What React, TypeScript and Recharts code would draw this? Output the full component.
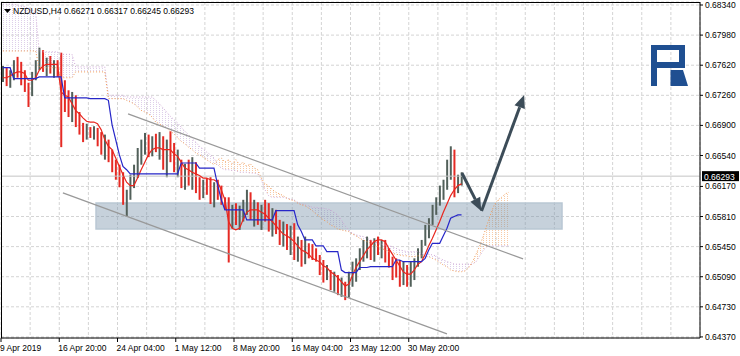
import React from 'react';
import {
  ComposedChart, Bar, Line, Area, XAxis, YAxis, CartesianGrid,
  ReferenceLine, ReferenceArea, Cell,
} from 'recharts';

const W = 740;
const H = 356;
const FONT = "'Liberation Sans', Arial, sans-serif";

// axis labels
const xLabels = ['9 Apr 2019', '16 Apr 20:00', '24 Apr 04:00', '1 May 12:00', '8 May 20:00', '16 May 04:00', '23 May 12:00', '30 May 20:00'];
const yTicks = [0.6834, 0.6798, 0.6762, 0.6726, 0.669, 0.6654, 0.6617, 0.6581, 0.6545, 0.6509, 0.6473, 0.6437];
const yDomain = [0.64357, 0.68376];

// price bars, one slot = 8 hours
const firstOpen = 0.6748;
const highs = [
  0.6761, 0.6759, 0.6756, 0.6768, 0.6772, 0.6766, 0.6756, 0.6741, 0.6754, 0.6768,
  0.6783, 0.6780, 0.6771, 0.6773, 0.6768, 0.6768, 0.6777, 0.6744, 0.6732, 0.6730,
  0.6726, 0.6706, 0.6693, 0.6692, 0.6688, 0.6689, 0.6687, 0.6682, 0.6679, 0.6673,
  0.6661, 0.6649, 0.6643, 0.6634, 0.6613, 0.6631, 0.6643, 0.6663, 0.6673, 0.6681,
  0.6679, 0.6677, 0.6680, 0.6682, 0.6677, 0.6673, 0.6683, 0.6669, 0.6661, 0.6649,
  0.6644, 0.6649, 0.6652, 0.6646, 0.6628, 0.6625, 0.6627, 0.6628, 0.6622, 0.6625,
  0.6618, 0.6604, 0.6604, 0.6595, 0.6597, 0.6594, 0.6601, 0.6613, 0.6610, 0.6601,
  0.6598, 0.6595, 0.6601, 0.6597, 0.6591, 0.6589, 0.6577, 0.6575, 0.6572, 0.6570,
  0.6573, 0.6557, 0.6553, 0.6557, 0.6549, 0.6548, 0.6543, 0.6535, 0.6529, 0.6523,
  0.6517, 0.6515, 0.6511, 0.6508, 0.6503, 0.6515, 0.6527, 0.6531, 0.6543, 0.6553,
  0.6557, 0.6553, 0.6555, 0.6557, 0.6553, 0.6553, 0.6543, 0.6533, 0.6531, 0.6529,
  0.6527, 0.6523, 0.6527, 0.6531, 0.6543, 0.6553, 0.6571, 0.6579, 0.6595, 0.6604,
  0.6618, 0.6625, 0.6649, 0.6665, 0.6661, 0.6631, 0.6634,
];
const lows = [
  0.6742, 0.6737, 0.6735, 0.6744, 0.6747, 0.6738, 0.6730, 0.6712, 0.6725, 0.6744,
  0.6756, 0.6754, 0.6749, 0.6752, 0.6747, 0.6748, 0.6664, 0.6706, 0.6700, 0.6694,
  0.6688, 0.6679, 0.6670, 0.6673, 0.6675, 0.6673, 0.6665, 0.6655, 0.6649, 0.6646,
  0.6634, 0.6625, 0.6616, 0.6595, 0.6581, 0.6601, 0.6615, 0.6627, 0.6643, 0.6655,
  0.6652, 0.6653, 0.6658, 0.6649, 0.6637, 0.6628, 0.6646, 0.6634, 0.6628, 0.6615,
  0.6613, 0.6618, 0.6613, 0.6609, 0.6601, 0.6603, 0.6607, 0.6596, 0.6592, 0.6601,
  0.6595, 0.6589, 0.6526, 0.6567, 0.6571, 0.6565, 0.6575, 0.6583, 0.6577, 0.6569,
  0.6571, 0.6565, 0.6575, 0.6563, 0.6557, 0.6560, 0.6547, 0.6545, 0.6541, 0.6535,
  0.6529, 0.6527, 0.6521, 0.6524, 0.6531, 0.6529, 0.6527, 0.6511, 0.6502, 0.6505,
  0.6493, 0.6491, 0.6487, 0.6485, 0.6481, 0.6484, 0.6497, 0.6503, 0.6517, 0.6527,
  0.6531, 0.6529, 0.6527, 0.6535, 0.6531, 0.6526, 0.6520, 0.6505, 0.6508, 0.6497,
  0.6499, 0.6497, 0.6497, 0.6505, 0.6521, 0.6531, 0.6546, 0.6555, 0.6571, 0.6583,
  0.6594, 0.6601, 0.6613, 0.6625, 0.6604, 0.6609, 0.6618,
];
const closes = [
  0.6752, 0.6744, 0.6754, 0.6761, 0.6754, 0.6744, 0.6735, 0.6730, 0.6749, 0.6763,
  0.6773, 0.6761, 0.6766, 0.6756, 0.6761, 0.6754, 0.6720, 0.6716, 0.6708, 0.6718,
  0.6699, 0.6689, 0.6685, 0.6687, 0.6682, 0.6685, 0.6673, 0.6661, 0.6667, 0.6651,
  0.6639, 0.6630, 0.6622, 0.6603, 0.6606, 0.6625, 0.6637, 0.6658, 0.6665, 0.6673,
  0.6661, 0.6670, 0.6665, 0.6673, 0.6649, 0.6661, 0.6653, 0.6639, 0.6649, 0.6625,
  0.6634, 0.6622, 0.6637, 0.6618, 0.6610, 0.6619, 0.6613, 0.6603, 0.6613, 0.6606,
  0.6601, 0.6597, 0.6583, 0.6586, 0.6577, 0.6584, 0.6594, 0.6603, 0.6586, 0.6591,
  0.6577, 0.6589, 0.6582, 0.6570, 0.6579, 0.6565, 0.6558, 0.6565, 0.6546, 0.6553,
  0.6534, 0.6543, 0.6527, 0.6547, 0.6541, 0.6536, 0.6534, 0.6517, 0.6508, 0.6515,
  0.6498, 0.6505, 0.6493, 0.6496, 0.6486, 0.6508, 0.6520, 0.6527, 0.6539, 0.6546,
  0.6548, 0.6541, 0.6551, 0.6541, 0.6546, 0.6534, 0.6527, 0.6517, 0.6510, 0.6505,
  0.6517, 0.6503, 0.6515, 0.6520, 0.6539, 0.6548, 0.6565, 0.6575, 0.6591, 0.6601,
  0.6613, 0.6620, 0.6643, 0.6661, 0.6615, 0.6627, 0.66293,
];

// ichimoku
const tenkan = [
  0.6747, 0.6747, 0.6749, 0.6752, 0.6754, 0.6754, 0.6752, 0.6744, 0.6744, 0.6747,
  0.6756, 0.6761, 0.6763, 0.6763, 0.6763, 0.6763, 0.6730, 0.6726, 0.6724, 0.6716,
  0.6708, 0.6704, 0.6699, 0.6695, 0.6694, 0.6694, 0.6692, 0.6685, 0.6673, 0.6665,
  0.6661, 0.6651, 0.6641, 0.6631, 0.6622, 0.6618, 0.6618, 0.6627, 0.6637, 0.6646,
  0.6655, 0.6661, 0.6663, 0.6663, 0.6661, 0.6661, 0.6661, 0.6656, 0.6653, 0.6646,
  0.6639, 0.6637, 0.6634, 0.6632, 0.6630, 0.6627, 0.6627, 0.6625, 0.6625, 0.6622,
  0.6613, 0.6601, 0.6575, 0.6567, 0.6565, 0.6567, 0.6577, 0.6586, 0.6589, 0.6589,
  0.6589, 0.6586, 0.6584, 0.6579, 0.6575, 0.6570, 0.6565, 0.6560, 0.6558, 0.6555,
  0.6551, 0.6546, 0.6541, 0.6539, 0.6536, 0.6531, 0.6529, 0.6527, 0.6522, 0.6520,
  0.6515, 0.6512, 0.6508, 0.6503, 0.6498, 0.6500, 0.6510, 0.6520, 0.6527, 0.6534,
  0.6541, 0.6546, 0.6551, 0.6553, 0.6553, 0.6551, 0.6543, 0.6536, 0.6529, 0.6522,
  0.6515, 0.6512, 0.6512, 0.6517, 0.6524, 0.6527, 0.6536, 0.6546, 0.6555, 0.6565,
  0.6575, 0.6586, 0.6596, 0.6606, 0.6613, 0.6618, 0.6620,
];
const kijun = [
  0.6759, 0.6759, 0.6759, 0.6746, 0.6746, 0.6746, 0.6746, 0.6746, 0.6746, 0.6746,
  0.6748, 0.6748, 0.6748, 0.6748, 0.6748, 0.6748, 0.6748, 0.6723, 0.6723, 0.6723,
  0.6723, 0.6723, 0.6723, 0.6723, 0.6722, 0.6722, 0.6722, 0.6722, 0.6722, 0.6720,
  0.6691, 0.6673, 0.6655, 0.6641, 0.6637, 0.6632, 0.6632, 0.6632, 0.6632, 0.6632,
  0.6632, 0.6632, 0.6632, 0.6632, 0.6632, 0.6632, 0.6632, 0.6632, 0.6632, 0.6645,
  0.6645, 0.6645, 0.6645, 0.6645, 0.6639, 0.6639, 0.6639, 0.6639, 0.6639, 0.6619,
  0.6601, 0.6589, 0.6589, 0.6589, 0.6589, 0.6589, 0.6589, 0.6577, 0.6577, 0.6577,
  0.6577, 0.6577, 0.6577, 0.6577, 0.6577, 0.6588, 0.6588, 0.6588, 0.6588, 0.6588,
  0.6588, 0.6571, 0.6563, 0.6553, 0.6553, 0.6553, 0.6546, 0.6546, 0.6546, 0.6539,
  0.6539, 0.6539, 0.6539, 0.6517, 0.6514, 0.6514, 0.6514, 0.6514, 0.6520, 0.6520,
  0.6520, 0.6521, 0.6521, 0.6521, 0.6521, 0.6521, 0.6521, 0.6521, 0.6529, 0.6529,
  0.6527, 0.6527, 0.6527, 0.6527, 0.6527, 0.6527, 0.6531, 0.6541, 0.6549, 0.6549,
  0.6549, 0.6558, 0.6567, 0.6579, 0.6581, 0.6583, 0.6583,
];
const spanA = [
  0.6779, 0.6779, 0.6779, 0.6779, 0.6779, 0.6779, 0.6779, 0.6779, 0.6779, 0.6779,
  0.6759, 0.6759, 0.6759, 0.6759, 0.6759, 0.6759, 0.6747, 0.6747, 0.6747, 0.6747,
  0.6754, 0.6754, 0.6754, 0.6754, 0.6754, 0.6754, 0.6754, 0.6754, 0.6754, 0.6722,
  0.6722, 0.6722, 0.6722, 0.6722, 0.6720, 0.6718, 0.6716, 0.6712, 0.6708, 0.6706,
  0.6704, 0.6700, 0.6694, 0.6692, 0.6689, 0.6687, 0.6683, 0.6680, 0.6675, 0.6671,
  0.6668, 0.6664, 0.6661, 0.6657, 0.6655, 0.6652, 0.6649, 0.6646, 0.6643, 0.6649,
  0.6651, 0.6646, 0.6649, 0.6644, 0.6649, 0.6643, 0.6646, 0.6641, 0.6644, 0.6639,
  0.6637, 0.6627, 0.6620, 0.6618, 0.6613, 0.6610, 0.6608, 0.6606, 0.6603, 0.6601,
  0.6600, 0.6597, 0.6595, 0.6594, 0.6591, 0.6588, 0.6584, 0.6581, 0.6577, 0.6575,
  0.6571, 0.6569, 0.6566, 0.6565, 0.6564, 0.6563, 0.6560, 0.6558, 0.6555, 0.6553,
  0.6551, 0.6549, 0.6547, 0.6545, 0.6543, 0.6541, 0.6539, 0.6537, 0.6536, 0.6535,
  0.6534, 0.6534, 0.6533, 0.6533, 0.6534, 0.6534, 0.6533, 0.6533, 0.6531, 0.6529,
  0.6526, 0.6523, 0.6521, 0.6517, 0.6516, 0.6515, 0.6515, 0.6516, 0.6520, 0.6527,
  0.6536, 0.6546, 0.6558, 0.6571, 0.6584, 0.6595, 0.6601, 0.6604, 0.6608, 0.6610,
];
const spanB = [
  0.6835, 0.6835, 0.6835, 0.6835, 0.6834, 0.6833, 0.6832, 0.6830, 0.6828, 0.6826,
  0.6778, 0.6778, 0.6778, 0.6778, 0.6778, 0.6778, 0.6775, 0.6775, 0.6775, 0.6775,
  0.6760, 0.6760, 0.6760, 0.6760, 0.6760, 0.6760, 0.6760, 0.6760, 0.6760, 0.6726,
  0.6726, 0.6726, 0.6726, 0.6726, 0.6724, 0.6724, 0.6724, 0.6724, 0.6724, 0.6724,
  0.6724, 0.6724, 0.6720, 0.6716, 0.6711, 0.6706, 0.6701, 0.6697, 0.6693, 0.6688,
  0.6683, 0.6679, 0.6674, 0.6670, 0.6665, 0.6662, 0.6658, 0.6655, 0.6651, 0.6643,
  0.6639, 0.6637, 0.6637, 0.6636, 0.6636, 0.6634, 0.6634, 0.6634, 0.6633, 0.6633,
  0.6632, 0.6625, 0.6613, 0.6606, 0.6604, 0.6604, 0.6604, 0.6604, 0.6603, 0.6602,
  0.6601, 0.6598, 0.6596, 0.6595, 0.6594, 0.6592, 0.6592, 0.6591, 0.6591, 0.6590,
  0.6589, 0.6586, 0.6583, 0.6577, 0.6570, 0.6565, 0.6561, 0.6559, 0.6558, 0.6557,
  0.6555, 0.6553, 0.6551, 0.6549, 0.6548, 0.6547, 0.6546, 0.6545, 0.6543, 0.6541,
  0.6540, 0.6539, 0.6539, 0.6539, 0.6539, 0.6537, 0.6537, 0.6536, 0.6535, 0.6534,
  0.6531, 0.6529, 0.6527, 0.6526, 0.6524, 0.6524, 0.6524, 0.6524, 0.6524, 0.6524,
  0.6527, 0.6534, 0.6541, 0.6545, 0.6546, 0.6546, 0.6546, 0.6546, 0.6546, 0.6546,
];

// drawn objects, in (slot, price)
const channelUpper = [{ x: 34.4, y: 0.67037 }, { x: 142.9, y: 0.65303 }];
const channelLower = [{ x: 16.5, y: 0.66092 }, { x: 122.0, y: 0.64406 }];
const arrowDown = [{ x: 126.1, y: 0.66331 }, { x: 131.4, y: 0.65877 }];
const arrowUp = [{ x: 131.5, y: 0.65877 }, { x: 143.2, y: 0.67264 }];
const zone = { x1: 25.6, x2: 153.6, y1: 0.65662, y2: 0.65973 };

const lastClose = closes[closes.length - 1];
const gridTicks = Array.from({ length: 25 }, (_, k) => -0.5 + 8 * k);

const data = spanA.map((a, i) => {
  const b = spanB[i];
  const has = i < closes.length;
  const open = i === 0 ? firstOpen : closes[i - 1];
  return {
    i,
    hl: has ? [lows[i], highs[i]] : null,
    up: has ? closes[i] >= open : false,
    tenkan: has ? tenkan[i] : null,
    kijun: has ? kijun[i] : null,
    spanA: a,
    spanB: b,
    bull: a > b ? [b, a] : [a, a],
    bear: b >= a ? [a, b] : [b, b],
  };
});

const XTick = ({ x, y, payload }: any) => {
  const k = Math.round((payload.value + 0.5) / 8);
  const label = k % 2 === 0 ? xLabels[k / 2] : undefined;
  if (!label) return <g />;
  return (
    <g>
      <line x1={x} y1={y - 4} x2={x} y2={y} stroke="#000" />
      <text x={x - 1} y={y + 9} fontSize={8.5} fontFamily={FONT} fill="#000">{label}</text>
    </g>
  );
};

const PriceTag = ({ viewBox }: any) => {
  const { x, y, width } = viewBox;
  return (
    <g>
      <rect x={x + width + 2} y={y - 5} width={37} height={10} fill="#000" />
      <text x={x + width + 4} y={y + 3.5} fontSize={8.5} fontFamily={FONT} fill="#fff">{lastClose.toFixed(5)}</text>
    </g>
  );
};

const Arrow = (p: any) => {
  const { x1, y1, x2, y2 } = p;
  const ang = Math.atan2(y2 - y1, x2 - x1);
  const len = 13;
  const half = 5.5;
  const bx = x2 - len * Math.cos(ang);
  const by = y2 - len * Math.sin(ang);
  const pts = [
    [x2, y2],
    [bx - half * Math.sin(ang), by + half * Math.cos(ang)],
    [bx + half * Math.sin(ang), by - half * Math.cos(ang)],
  ].map((q) => q.join(',')).join(' ');
  return (
    <g>
      <line x1={x1} y1={y1} x2={bx} y2={by} stroke="#3c4c58" strokeWidth={3} />
      <polygon points={pts} fill="#3c4c58" />
    </g>
  );
};

export default function App() {
  return (
    <div style={{ position: 'absolute', left: 0, top: 0, width: W, height: H, background: '#fff' }}>
      <ComposedChart width={W} height={H} data={data} margin={{ top: 2, right: 0, bottom: 0, left: 1 }}>
        <defs>
          <pattern id="bearDots" width="3" height="2" patternUnits="userSpaceOnUse">
            <rect x="0" y="0" width="1" height="1" fill="#c7aedb" />
          </pattern>
          <pattern id="bullDots" width="3" height="2" patternUnits="userSpaceOnUse">
            <rect x="0" y="0" width="1" height="1" fill="#f3a86a" />
          </pattern>
        </defs>
        <CartesianGrid stroke="#d4d4d4" strokeDasharray="3 2" />
        <XAxis
          type="number" dataKey="i" domain={[-0.5, 191.5]} allowDataOverflow
          ticks={gridTicks} interval={0} height={18} tickSize={4} tickMargin={0}
          tick={<XTick />} tickLine={false} axisLine={{ stroke: '#000' }}
        />
        <YAxis
          orientation="right" type="number" domain={yDomain} allowDataOverflow
          ticks={yTicks} interval={0} width={40} tickSize={3} tickMargin={2}
          tickFormatter={(v: number) => v.toFixed(5)}
          tick={{ fontSize: 8.5, fill: '#000', fontFamily: FONT }}
          axisLine={{ stroke: '#000' }} tickLine={{ stroke: '#000' }}
        />
        <Area dataKey="bear" stroke="none" fill="url(#bearDots)" isAnimationActive={false} dot={false} activeDot={false} />
        <Area dataKey="bull" stroke="none" fill="url(#bullDots)" isAnimationActive={false} dot={false} activeDot={false} />
        <Line dataKey="spanB" stroke="#cfa9d6" strokeDasharray="1 2" strokeWidth={1} dot={false} isAnimationActive={false} />
        <Line dataKey="spanA" stroke="#f09a55" strokeDasharray="1 2" strokeWidth={1} dot={false} isAnimationActive={false} />
        <ReferenceLine y={lastClose} stroke="#c4c4c4" label={<PriceTag />} />
        <Bar dataKey="hl" barSize={2} isAnimationActive={false}>
          {data.map((d) => (
            <Cell key={d.i} fill={d.up ? '#52605a' : '#e52a24'} />
          ))}
        </Bar>
        <Line dataKey="tenkan" stroke="#e8261e" strokeWidth={1.2} dot={false} isAnimationActive={false} />
        <Line dataKey="kijun" stroke="#2626c8" strokeWidth={1.2} dot={false} isAnimationActive={false} />
        <ReferenceLine segment={channelUpper} stroke="#999" strokeWidth={1.3} />
        <ReferenceLine segment={channelLower} stroke="#999" strokeWidth={1.3} />
        <ReferenceArea
          x1={zone.x1} x2={zone.x2} y1={zone.y1} y2={zone.y2}
          fill="#7891aa" fillOpacity={0.42} stroke="#b9c7d4" strokeWidth={1.5}
        />
        <ReferenceLine segment={arrowDown} shape={<Arrow />} />
        <ReferenceLine segment={arrowUp} shape={<Arrow />} />
      </ComposedChart>
      <svg width={W} height={H} style={{ position: 'absolute', left: 0, top: 0, pointerEvents: 'none' }}>
        <line x1={1.5} y1={2} x2={1.5} y2={338} stroke="#000" />
        <line x1={1} y1={2.5} x2={700} y2={2.5} stroke="#000" />
        <polygon points="4,9 11,9 7.5,13" fill="#000" />
        <text x={13} y={13.5} fontSize={8.5} fontFamily={FONT} fill="#000">
          NZDUSD,H4 0.66271 0.66317 0.66245 0.66293
        </text>
        <g fill="#1f4f91">
          <path d="M651,45 H685 V68 H657 V86 H651 Z M657,50 V62 H679 V50 Z" fillRule="evenodd" />
          <polygon points="670.5,70 683,70 688,86 670.5,86" />
        </g>
      </svg>
    </div>
  );
}
